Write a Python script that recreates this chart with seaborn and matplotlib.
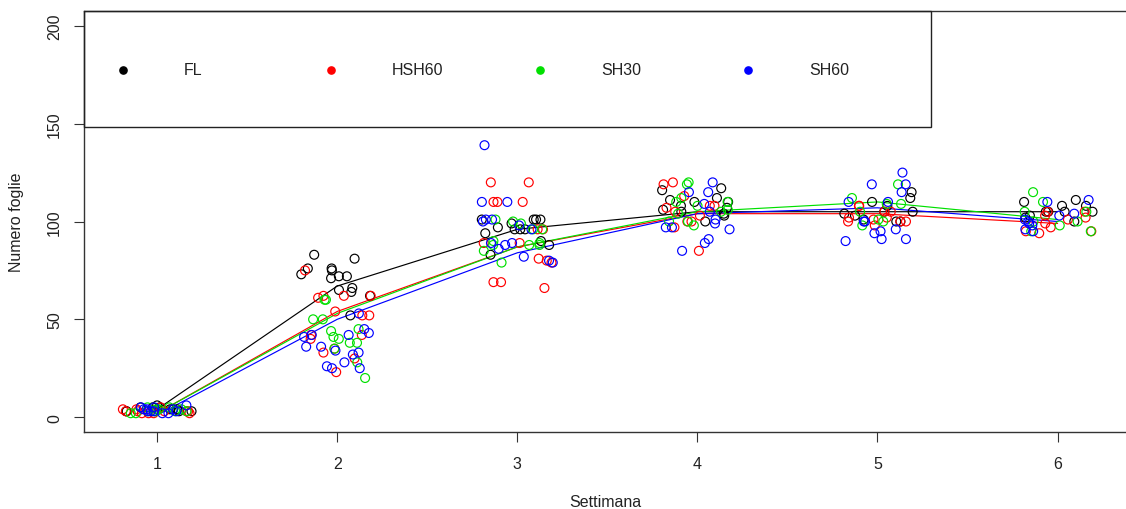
import numpy as np
import pandas as pd
import matplotlib
matplotlib.use("Agg")
import matplotlib.pyplot as plt
import seaborn as sns
from matplotlib.patches import Rectangle

# ---- data -----------------------------------------------------------------
weeks = [1, 2, 3, 4, 5, 6]
groups = ["FL", "HSH60", "SH30", "SH60"]
colors = ["black", "red", "#00E000", "blue"]

# leaf counts per plant, one list per week
fl_counts = [
    [3, 4, 5, 4, 3, 5, 4, 3, 5, 6, 4, 3],
    [83, 81, 76, 75, 72, 72, 71, 73, 76, 66, 65, 64, 62, 52],
    [101, 101, 101, 101, 99, 96, 94, 96, 96, 90, 88, 83, 97],
    [116, 117, 110, 110, 112, 104, 100, 103, 106, 108, 105, 111, 107],
    [115, 112, 110, 105, 104, 105, 100, 108, 100, 103, 101],
    [110, 111, 108, 108, 105, 105, 105, 103, 102, 100, 105],
]
hsh60_counts = [
    [2, 3, 2, 3, 4, 2, 3, 4, 3, 2, 3, 5],
    [75, 62, 62, 61, 62, 52, 52, 54, 42, 40, 33, 35, 30, 23, 42],
    [120, 120, 110, 110, 110, 96, 96, 89, 89, 81, 79, 69, 69, 66, 80],
    [119, 108, 107, 100, 100, 97, 85, 103, 113, 108, 120, 105],
    [108, 105, 100, 100, 98, 101, 102, 105, 100, 102, 108],
    [105, 105, 103, 102, 101, 99, 95, 94, 95, 97],
]
sh30_counts = [
    [3, 2, 4, 3, 5, 3, 2, 4, 3, 3, 5, 4],
    [60, 60, 50, 50, 44, 41, 38, 45, 40, 35, 28, 20, 38],
    [101, 100, 96, 96, 90, 88, 88, 99, 88, 85, 79, 89],
    [119, 120, 110, 110, 105, 100, 100, 104, 98, 112, 108, 106],
    [119, 112, 109, 100, 98, 101, 109, 105],
    [115, 110, 105, 100, 100, 95, 95, 98, 105],
]
sh60_counts = [
    [3, 4, 2, 5, 3, 4, 2, 3, 5, 4, 3, 6],
    [53, 43, 41, 45, 36, 34, 33, 32, 42, 42, 36, 26, 25, 25, 28],
    [139, 110, 110, 101, 101, 100, 98, 96, 89, 89, 88, 82, 80, 79, 86],
    [115, 115, 109, 101, 97, 99, 96, 89, 85, 105, 120, 91, 97],
    [125, 119, 119, 115, 110, 110, 100, 96, 95, 94, 91, 90, 91, 100],
    [111, 110, 104, 103, 100, 99, 98, 95, 96, 101],
]

# smoothed trend per treatment at each week
fl_trend = [4, 67, 96, 105, 105, 105]
hsh60_trend = [2, 54, 87, 104, 104, 99]
sh30_trend = [2, 53, 87, 105, 110, 101]
sh60_trend = [1, 50, 84, 104, 107, 100]

y_ticks = [0, 50, 100, 150, 200]

# ---- tidy tables ------------------------------------------------------------
rows = []
for g, counts in zip(groups, [fl_counts, hsh60_counts, sh30_counts, sh60_counts]):
    for w, vals in zip(weeks, counts):
        for v in vals:
            rows.append({"Settimana": w, "Foglie": v, "Gruppo": g})
points = pd.DataFrame(rows)

trend_rows = []
for g, tr in zip(groups, [fl_trend, hsh60_trend, sh30_trend, sh60_trend]):
    for w, v in zip(weeks, tr):
        trend_rows.append({"Settimana": w, "Foglie": v, "Gruppo": g})
trends = pd.DataFrame(trend_rows)

# ---- figure -------------------------------------------------------------------
sns.set_style("white")
plt.rcParams["font.family"] = ["Liberation Sans", "DejaVu Sans"]
FS = 11.5
TXT = "#222222"

fig = plt.figure(figsize=(11.26, 5.10), dpi=100)
ax = fig.add_axes([84 / 1126, 1 - 433 / 510, 1042 / 1126, 421 / 510])

palette = dict(zip(groups, colors))
np.random.seed(7)
sns.stripplot(data=points, x="Settimana", y="Foglie", hue="Gruppo",
              hue_order=groups, palette=palette, native_scale=True,
              jitter=0.2, size=6.4, linewidth=0, legend=False, ax=ax)

# open circles
for coll in ax.collections:
    fc = coll.get_facecolors()
    coll.set_facecolors("none")
    coll.set_edgecolors(fc)
    coll.set_linewidths(0.85)

sns.lineplot(data=trends, x="Settimana", y="Foglie", hue="Gruppo",
             hue_order=groups, palette=palette, linewidth=0.85,
             errorbar=None, legend=False, ax=ax)

ax.set_xlim(0.594, 6.38)
ax.set_ylim(-7.6, 207.6)
ax.set_xticks(weeks)
ax.set_xticklabels([str(w) for w in weeks])
ax.set_yticks(y_ticks)
ax.set_yticklabels([str(t) for t in y_ticks])

ax.tick_params(axis="x", bottom=True, direction="out", length=7.2, width=0.8,
               pad=10, labelsize=FS, colors="#333333", labelcolor=TXT)
ax.tick_params(axis="y", left=True, direction="out", length=7.2, width=0.8,
               pad=8.6, labelsize=FS, colors="#333333", labelcolor=TXT)
for lab in ax.get_yticklabels():
    lab.set_rotation(90)
    lab.set_va("center")
    lab.set_ha("right")

for side in ["left", "bottom", "top"]:
    ax.spines[side].set_visible(True)
    ax.spines[side].set_color("#333333")
    ax.spines[side].set_linewidth(1.0)
ax.spines["right"].set_visible(False)

ax.set_xlabel("Settimana", fontsize=FS, color=TXT)
ax.set_ylabel("Numero foglie", fontsize=FS, color=TXT)
ax.xaxis.set_label_coords(0.5, -0.147)
ax.yaxis.set_label_coords(-0.058, 0.5)

# legend box across the top
ax.add_patch(Rectangle((0, 0.7245), 0.8129, 0.2755, transform=ax.transAxes,
                       fill=False, edgecolor="#222222", linewidth=1.0,
                       clip_on=False, zorder=5))
marker_x = [0.0374, 0.237, 0.4376, 0.637]
for g, c, mx in zip(groups, colors, marker_x):
    ax.plot([mx], [0.86], marker="o", markersize=5.2, color=c,
            linestyle="none", transform=ax.transAxes, clip_on=False, zorder=6)
    ax.text(mx + 0.0586, 0.86, g, transform=ax.transAxes, fontsize=FS,
            color=TXT, ha="left", va="center", zorder=6)

fig.savefig("out.png", dpi=100)
